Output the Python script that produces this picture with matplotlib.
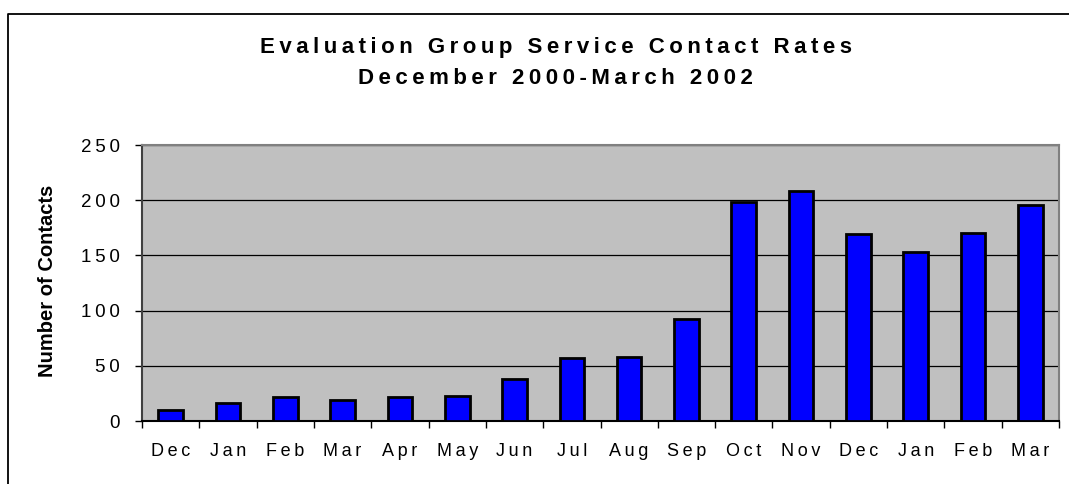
import numpy as np
import matplotlib.pyplot as plt
from matplotlib.lines import Line2D

months = ['Dec', 'Jan', 'Feb', 'Mar', 'Apr', 'May', 'Jun', 'Jul',
          'Aug', 'Sep', 'Oct', 'Nov', 'Dec', 'Jan', 'Feb', 'Mar']
contacts = [10, 16, 22, 19, 22, 23, 38, 57, 58, 92, 198, 208, 169, 153, 170, 196]
yticks = [0, 50, 100, 150, 200, 250]
title_lines = ['Evaluation Group Service Contact Rates', 'December 2000-March 2002']

plt.rcParams['font.family'] = ['Liberation Sans', 'DejaVu Sans']


def spaced(s, sep='\u2009'):
    # imitate the wide letter spacing of the original chart
    return sep.join(s)


fig = plt.figure(figsize=(10.69, 4.84), dpi=100)
ax = fig.add_axes([142 / 1069, 63 / 484, 917 / 1069, 276 / 484])

x = np.arange(len(months))
ax.set_facecolor('#C0C0C0')
ax.bar(x, contacts, width=0.43, color='#0000FF', edgecolor='black', linewidth=2, zorder=3)

ax.set_ylim(0, 250)
ax.set_xlim(-0.5, len(months) - 0.5)
ax.set_yticks(yticks)
ax.yaxis.grid(True, color='black', linewidth=0.9, zorder=0)

# labels at the centres, tick marks between categories
ax.set_xticks(x)
ax.set_xticklabels([spaced(m) for m in months], fontsize=13)
ax.set_xticks(np.arange(-0.5, len(months)), minor=True)
ax.tick_params(axis='x', which='major', length=0, pad=16)
ax.tick_params(axis='x', which='minor', length=5, width=1, direction='out')
ax.tick_params(axis='y', length=5, width=1, direction='out', labelsize=13.5, pad=11)
ax.set_yticklabels([spaced(str(t)) for t in yticks])

for s in ['top', 'right']:
    ax.spines[s].set_color('#808080')
    ax.spines[s].set_linewidth(1.5)
ax.spines['left'].set_color('#404040')
ax.spines['left'].set_linewidth(1.5)
ax.spines['bottom'].set_color('black')
ax.spines['bottom'].set_linewidth(1.5)

fig.text(48 / 1069, 1 - 281 / 484, 'Number of Contacts', rotation=90,
         ha='center', va='center', fontsize=14.5, fontweight='bold')

fig.text(0.52, 1 - 48 / 484, spaced(title_lines[0]),
         ha='center', va='center', fontsize=16, fontweight='bold')
fig.text(0.52, 1 - 79 / 484, spaced(title_lines[1]),
         ha='center', va='center', fontsize=16, fontweight='bold')

# chart border (top and left edges visible)
fig.add_artist(Line2D([8 / 1069, 8 / 1069, 1.0], [0.0, 1 - 14 / 484, 1 - 14 / 484],
                      transform=fig.transFigure, color='black', linewidth=1.3))

fig.savefig('out.png', dpi=100)
